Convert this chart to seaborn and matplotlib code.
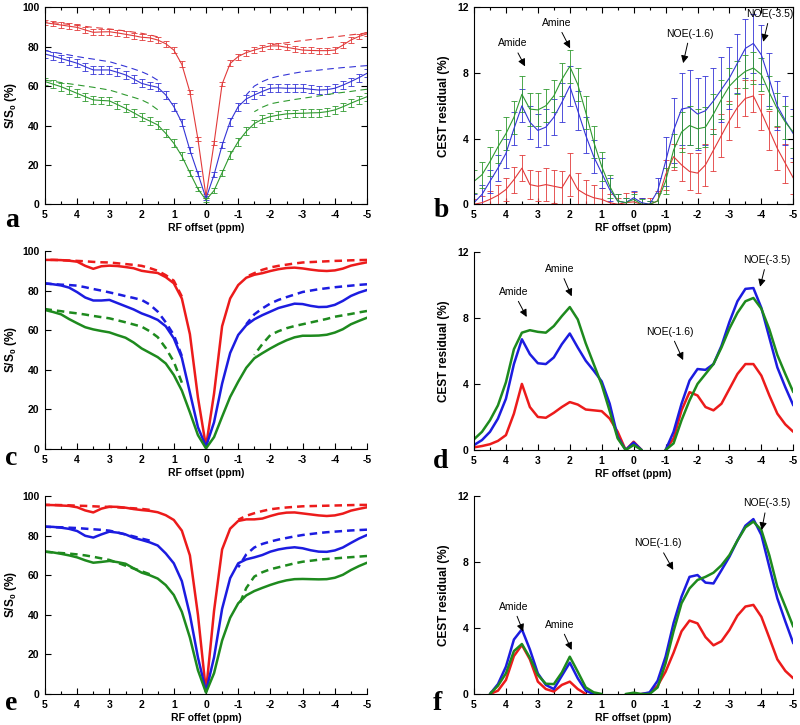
import numpy as np
import pandas as pd
import matplotlib
matplotlib.use("Agg")
import matplotlib.pyplot as plt
from matplotlib.ticker import MultipleLocator
import seaborn as sns

sns.set_theme(style="ticks")
plt.rcParams["font.family"] = ["Liberation Sans", "DejaVu Sans"]
plt.rcParams["font.weight"] = "bold"
plt.rcParams["axes.labelweight"] = "bold"
plt.rcParams["axes.unicode_minus"] = False
plt.rcParams["mathtext.fontset"] = "custom"
plt.rcParams["mathtext.rm"] = "Liberation Sans:bold"
plt.rcParams["mathtext.it"] = "Liberation Sans:bold"
plt.rcParams["mathtext.bf"] = "Liberation Sans:bold"

nan = np.nan
# RF offset grid (ppm), 0.25 ppm sampling from +5 to -5
offset_ppm = np.round(np.linspace(5, -5, 41), 2)
xtick_vals = [5, 4, 3, 2, 1, 0, -1, -2, -3, -4, -5]

# ---------------- panel a : Z-spectra (mean, sd, fitted background) ----------------
a_red = [92.2, 91.6, 91.0, 90.4, 89.8, 88.5, 87.3, 87.5, 87.6, 87.0,
         86.3, 85.6, 84.8, 84.5, 83.4, 81.5, 78.3, 71.0, 57.0, 33.0,
         4.0, 31.0, 61.0, 71.5, 75.0, 77.0, 78.3, 79.5, 80.4, 80.4,
         79.7, 79.0, 78.3, 78.1, 78.0, 78.0, 78.3, 80.8, 83.4, 85.2, 86.5]
a_red_err = [1.2, 1.3, 1.4, 1.5, 1.5, 1.5, 1.5, 1.5, 1.5, 1.5,
             1.5, 1.5, 1.5, 1.5, 1.5, 1.5, 1.5, 1.5, 1.2, 1.0,
             1.0, 1.0, 1.2, 1.5, 1.5, 1.5, 1.5, 1.5, 1.5, 1.5,
             1.5, 1.5, 1.5, 1.5, 1.5, 1.5, 1.5, 1.5, 1.5, 1.3, 1.2]
a_red_fit = [92.6, 92.2, 91.8, 91.3, 90.8, 90.3, 89.8, 89.4, 89.0, 88.5,
             88.0, 87.4, 86.8, 86.0, 85.0, nan, nan, nan, nan, nan,
             nan, nan, nan, nan, nan, nan, nan, nan, 81.0, 81.5,
             82.0, 82.6, 83.1, 83.6, 84.0, 84.5, 85.0, 85.5, 86.0, 86.5, 87.0]
a_blue = [76.3, 75.2, 74.0, 72.8, 71.6, 69.8, 68.2, 68.2, 68.2, 67.0,
          65.7, 63.6, 61.4, 60.3, 59.4, 55.5, 49.6, 41.5, 27.5, 15.5,
          3.0, 15.0, 30.0, 42.0, 49.6, 53.5, 55.5, 57.3, 58.9, 59.1,
          58.9, 58.9, 58.9, 58.4, 58.0, 58.2, 58.9, 60.5, 62.3, 64.3, 66.5]
a_blue_err = [1.8, 2.0, 2.0, 2.0, 2.0, 2.0, 2.0, 2.0, 2.0, 2.0,
              2.0, 2.0, 2.0, 2.0, 2.0, 2.0, 2.0, 2.0, 1.5, 1.2,
              1.0, 1.2, 1.5, 2.0, 2.0, 2.0, 2.0, 2.0, 2.0, 2.0,
              2.0, 2.0, 2.0, 2.0, 2.0, 2.0, 2.0, 2.0, 2.0, 2.0, 2.0]
a_blue_fit = [78.0, 77.2, 76.5, 75.8, 75.0, 74.3, 73.7, 73.0, 72.4, 71.2,
              70.0, 68.7, 67.3, 65.5, 63.0, nan, nan, nan, nan, nan,
              nan, nan, nan, nan, nan, 55.5, 60.0, 62.3, 64.0, 65.0,
              65.8, 66.6, 67.3, 67.7, 68.1, 68.6, 69.0, 69.4, 69.7, 70.1, 70.4]
a_green = [62.3, 61.0, 59.7, 58.0, 56.3, 54.6, 53.0, 52.7, 52.5, 50.6,
           48.7, 46.5, 44.2, 42.3, 40.3, 36.0, 31.0, 24.5, 16.0, 7.8,
           2.2, 7.0, 16.0, 25.0, 31.8, 37.0, 41.0, 43.2, 44.5, 45.3,
           45.9, 46.1, 46.2, 46.4, 46.5, 47.0, 47.9, 49.5, 51.3, 53.0, 54.6]
a_green_err = [1.8, 2.0, 2.0, 2.0, 2.0, 2.0, 2.0, 2.0, 2.0, 2.0,
               2.0, 2.0, 2.0, 2.0, 2.0, 2.0, 2.0, 2.0, 1.5, 1.2,
               1.0, 1.2, 1.5, 2.0, 2.0, 2.0, 2.0, 2.0, 2.0, 2.0,
               2.0, 2.0, 2.0, 2.0, 2.0, 2.0, 2.0, 2.0, 2.0, 2.0, 2.0]
a_green_fit = [63.0, 62.4, 61.8, 61.2, 60.6, 60.0, 59.4, 58.7, 58.0, 56.8,
               55.5, 54.3, 53.0, 51.0, 48.0, nan, nan, nan, nan, nan,
               nan, nan, nan, nan, nan, nan, 47.0, 49.3, 51.0, 51.8,
               52.5, 53.2, 53.8, 54.4, 55.0, 55.7, 56.3, 56.8, 57.3, 57.9, 58.4]

# ---------------- panel b : CEST residual (mean, sd) ----------------
b_red = [0.0, 0.1, 0.3, 0.55, 0.9, 1.5, 2.2, 1.2, 1.1, 1.2,
         1.1, 1.0, 1.8, 0.9, 0.6, 0.4, 0.3, 0.1, 0.0, 0.1,
         0.15, 0.0, 0.0, 0.2, 1.8, 2.9, 2.4, 2.0, 1.9, 2.4,
         3.3, 4.2, 5.1, 5.9, 6.45, 6.6, 5.6, 4.5, 3.4, 2.5, 1.6]
b_red_err = [0.3, 0.4, 0.5, 0.6, 0.7, 0.8, 0.8, 0.9, 0.9, 1.0,
             1.0, 1.0, 1.3, 1.0, 0.9, 0.8, 0.7, 0.5, 0.4, 0.6,
             0.6, 0.4, 0.4, 0.6, 0.9, 0.8, 1.0, 1.1, 1.2, 1.3,
             1.3, 1.3, 1.2, 1.2, 1.1, 1.0, 1.1, 1.2, 1.3, 1.2, 1.0]
b_blue = [0.1, 0.6, 1.4, 2.2, 3.1, 4.6, 6.0, 5.0, 4.5, 4.7,
          5.3, 6.2, 7.2, 5.7, 4.2, 2.9, 1.9, 0.9, 0.2, 0.1,
          0.4, 0.1, 0.0, 0.8, 2.6, 4.5, 5.8, 5.9, 5.5, 5.7,
          6.3, 7.0, 7.7, 8.6, 9.5, 9.8, 9.1, 7.6, 6.0, 5.1, 4.3]
b_blue_err = [0.5, 0.6, 0.7, 0.8, 0.9, 1.0, 1.0, 1.0, 1.0, 1.1,
              1.1, 1.2, 1.2, 1.2, 1.1, 1.0, 0.9, 0.7, 0.4, 0.3,
              0.4, 0.3, 0.2, 0.8, 1.5, 2.0, 2.2, 2.3, 2.2, 2.1,
              2.0, 2.0, 1.9, 1.8, 1.8, 1.8, 1.8, 1.6, 1.5, 1.5, 1.5]
b_green = [1.4, 1.8, 2.6, 3.5, 4.3, 5.3, 6.7, 5.8, 5.75, 6.0,
           6.6, 7.6, 8.4, 7.3, 5.6, 3.8, 2.3, 1.1, 0.2, 0.1,
           0.3, 0.0, 0.0, 0.2, 1.4, 3.3, 4.4, 4.8, 4.6, 4.7,
           5.5, 6.4, 7.2, 7.7, 8.1, 8.3, 7.9, 6.8, 5.8, 5.0, 4.4]
b_green_err = [0.7, 0.8, 0.9, 1.0, 1.0, 1.0, 1.1, 1.0, 1.0, 1.0,
               1.0, 1.0, 1.0, 1.0, 1.0, 1.0, 0.9, 0.7, 0.4, 0.3,
               0.3, 0.3, 0.2, 0.5, 0.8, 1.0, 1.2, 1.2, 1.2, 1.2,
               1.2, 1.2, 1.1, 1.0, 1.0, 1.0, 1.0, 1.0, 1.0, 1.0, 1.0]

# ---------------- panel c : fitted Z-spectra ----------------
c_red = [95.5, 95.5, 95.4, 95.1, 94.6, 92.5, 91.0, 92.3, 92.6, 92.4,
         91.9, 91.3, 90.0, 89.4, 88.9, 86.8, 83.7, 76.0, 58.0, 26.0,
         1.2, 28.0, 62.0, 76.0, 82.8, 86.5, 88.0, 88.8, 89.9, 90.8,
         91.4, 91.6, 91.2, 90.6, 90.1, 89.9, 90.2, 91.1, 92.6, 93.5, 94.3]
c_red_fit = [95.5, 95.5, 95.4, 95.2, 95.0, 94.8, 94.5, 94.3, 94.2, 93.8,
             93.4, 93.0, 92.5, 91.4, 90.0, 87.8, 85.0, 77.0, nan, nan,
             nan, nan, nan, nan, nan, 87.0, 88.8, 90.5, 91.7, 92.5,
             93.1, 93.7, 94.2, 94.4, 94.6, 94.8, 95.0, 95.1, 95.3, 95.4, 95.5]
c_blue = [83.7, 83.2, 82.6, 81.5, 79.2, 76.5, 75.0, 75.0, 75.3, 73.7,
          72.1, 70.5, 68.5, 67.0, 65.2, 62.0, 55.9, 46.0, 28.5, 11.0,
          1.2, 13.5, 33.0, 48.5, 57.6, 62.5, 65.5, 67.6, 69.4, 71.2,
          72.3, 73.4, 73.2, 72.3, 71.7, 71.8, 72.8, 74.8, 77.3, 79.0, 80.3]
c_blue_fit = [83.5, 83.3, 83.0, 82.8, 82.5, 81.7, 80.8, 80.0, 79.1, 78.2,
              77.2, 76.3, 75.3, 73.0, 69.4, 64.0, 57.6, 47.0, nan, nan,
              nan, nan, nan, nan, nan, 63.0, 68.0, 71.0, 73.5, 75.3,
              76.7, 78.0, 79.3, 80.0, 80.7, 81.2, 81.7, 82.1, 82.5, 82.9, 83.2]
c_green = [70.2, 69.2, 68.0, 65.6, 63.5, 61.5, 60.4, 59.6, 58.9, 57.5,
           56.2, 53.8, 50.8, 48.6, 46.4, 43.2, 37.4, 29.5, 18.5, 7.0,
           0.3, 6.0, 16.3, 26.3, 34.0, 41.0, 45.8, 48.4, 50.8, 53.0,
           54.9, 56.4, 57.2, 57.2, 57.3, 57.7, 58.8, 60.5, 63.0, 64.7, 66.3]
c_green_fit = [70.7, 70.1, 69.6, 69.0, 68.5, 67.9, 67.2, 66.6, 66.0, 65.0,
               64.0, 62.9, 61.8, 59.5, 56.5, 51.0, 44.1, 33.5, nan, nan,
               nan, nan, nan, nan, nan, nan, 47.5, 53.0, 57.6, 59.5,
               61.0, 62.1, 63.0, 63.9, 64.8, 65.7, 66.8, 67.5, 68.2, 69.0, 69.7]

# ---------------- panel d : fitted CEST residual ----------------
d_red = [0.16, 0.24, 0.35, 0.55, 0.9, 2.2, 4.0, 2.6, 2.0, 1.95,
         2.25, 2.6, 2.9, 2.75, 2.45, 2.4, 2.35, 1.9, 1.1, 0.0,
         0.5, 0.0, nan, nan, 0.0, 0.7, 2.4, 3.5, 3.3, 2.6,
         2.4, 2.8, 3.7, 4.6, 5.2, 5.2, 4.5, 3.3, 2.2, 1.55, 1.1]
d_blue = [0.3, 0.6, 1.1, 1.9, 3.1, 5.2, 6.7, 5.8, 5.25, 5.2,
          5.6, 6.4, 7.05, 6.2, 5.4, 4.8, 4.15, 2.8, 0.8, 0.0,
          0.45, 0.0, nan, nan, 0.0, 1.1, 2.8, 4.2, 4.9, 4.85,
          5.2, 6.3, 7.75, 9.0, 9.75, 9.8, 8.6, 6.8, 5.0, 3.8, 2.7]
d_green = [0.65, 1.1, 1.8, 2.7, 4.1, 6.1, 7.1, 7.25, 7.15, 7.1,
           7.5, 8.1, 8.65, 7.9, 6.45, 5.2, 3.95, 2.35, 0.7, 0.0,
           0.3, 0.0, nan, nan, 0.0, 0.4, 1.8, 3.0, 4.0, 4.6,
           5.2, 6.2, 7.35, 8.3, 9.0, 9.2, 8.55, 7.3, 5.75, 4.6, 3.5]

# ---------------- panel e : fitted Z-spectra (second model) ----------------
e_red = [95.5, 95.4, 95.2, 95.0, 94.3, 92.7, 91.7, 93.6, 94.6, 94.5,
         94.1, 93.4, 92.9, 92.5, 91.8, 90.3, 87.9, 82.5, 70.0, 40.0,
         1.2, 42.0, 73.0, 83.5, 87.4, 88.2, 88.2, 88.6, 89.9, 91.0,
         91.6, 91.7, 91.2, 90.7, 90.2, 89.9, 90.2, 91.1, 92.6, 93.5, 94.3]
e_red_fit = [95.5, 95.5, 95.4, 95.3, 95.1, 95.0, 94.8, 94.6, 94.5, 94.3,
             94.0, 93.8, 93.5, 93.0, nan, nan, nan, nan, nan, nan,
             nan, nan, nan, nan, 88.0, 90.0, 91.3, 92.4, 93.3, 93.8,
             94.2, 94.5, 94.8, 94.9, 95.0, 95.1, 95.2, 95.3, 95.4, 95.5, 95.5]
e_blue = [84.5, 84.4, 84.0, 83.4, 82.3, 79.9, 79.0, 80.6, 82.0, 81.5,
          80.6, 78.9, 77.8, 76.6, 75.0, 71.0, 66.0, 57.0, 40.0, 18.5,
          1.2, 18.5, 43.0, 58.5, 66.0, 68.0, 69.0, 70.2, 71.9, 73.0,
          73.7, 74.1, 73.6, 72.6, 71.9, 71.8, 72.5, 74.0, 76.3, 78.5, 80.3]
e_blue_fit = [84.5, 84.3, 84.2, 84.0, 83.8, 83.5, 83.2, 82.9, 82.5, 81.6,
              80.6, 79.6, 78.5, 77.5, nan, nan, nan, nan, nan, nan,
              nan, nan, nan, nan, 64.0, 70.5, 74.0, 75.8, 77.0, 78.0,
              78.8, 79.6, 80.3, 80.8, 81.3, 81.7, 82.0, 82.3, 82.6, 82.8, 83.0]
e_green = [71.9, 71.5, 70.8, 70.0, 69.0, 67.5, 66.3, 66.7, 67.2, 66.6,
           65.8, 63.5, 61.3, 60.0, 58.3, 55.0, 50.0, 41.5, 28.5, 12.0,
           0.7, 10.5, 27.0, 38.5, 45.8, 49.8, 52.0, 53.6, 55.1, 56.4,
           57.4, 58.0, 58.1, 58.0, 57.9, 58.0, 58.7, 60.2, 62.6, 64.6, 66.3]
e_green_fit = [71.9, 71.5, 71.2, 70.9, 70.5, 70.0, 69.3, 68.5, 67.7, 66.3,
               64.8, 63.4, 62.0, 60.5, nan, nan, nan, nan, nan, nan,
               nan, nan, nan, nan, 44.0, 53.5, 59.3, 61.5, 63.0, 64.0,
               65.0, 66.0, 66.8, 67.3, 67.8, 68.2, 68.5, 68.8, 69.1, 69.4, 69.7]

# ---------------- panel f : fitted CEST residual (second model) ----------------
f_red = [nan, nan, 0.0, 0.2, 0.85, 2.3, 2.97, 2.1, 0.75, 0.3,
         0.15, 0.55, 0.75, 0.3, 0.0, nan, nan, nan, nan, nan,
         nan, 0.0, 0.05, 0.5, 1.35, 2.5, 3.8, 4.45, 4.28, 3.45,
         2.95, 3.2, 3.88, 4.75, 5.3, 5.4, 4.68, 3.4, 2.1, 1.4, 0.95]
f_blue = [nan, nan, 0.0, 0.6, 1.66, 3.3, 3.92, 2.7, 1.25, 0.55,
          0.3, 1.1, 1.9, 0.95, 0.2, 0.0, nan, nan, nan, nan,
          nan, 0.0, 0.1, 0.8, 2.26, 4.3, 5.9, 7.1, 7.21, 6.75,
          6.7, 7.5, 8.32, 9.3, 10.2, 10.6, 9.64, 7.7, 5.8, 4.4, 3.07]
f_green = [nan, nan, 0.0, 0.5, 1.25, 2.6, 3.03, 2.2, 1.15, 0.62,
           0.6, 1.3, 2.26, 1.35, 0.4, 0.1, 0.0, nan, nan, 0.0,
           0.08, 0.0, 0.0, 0.4, 1.86, 3.8, 5.5, 6.4, 6.91, 7.1,
           7.35, 7.8, 8.42, 9.3, 10.1, 10.45, 9.94, 8.4, 6.5, 5.3, 4.08]

# annotation labels (text position, arrow tip) in data coords
annot_b = [("Amide", (3.78, 9.8), (3.4, 8.4)), ("Amine", (2.4, 11.05), (1.99, 9.5)),
           ("NOE(-1.6)", (-1.76, 10.4), (-1.55, 8.6)), ("NOE(-3.5)", (-4.27, 11.6), (-4.06, 9.9))]
annot_d = [("Amide", (3.77, 9.57), (3.35, 8.05)), ("Amine", (2.31, 10.95), (1.94, 9.3)),
           ("NOE(-1.6)", (-1.14, 7.16), (-1.55, 5.44)), ("NOE(-3.5)", (-4.17, 11.5), (-3.96, 9.88))]
annot_f = [("Amide", (3.77, 5.29), (3.46, 3.78)), ("Amine", (2.31, 4.2), (1.94, 2.67)),
           ("NOE(-1.6)", (-0.77, 9.13), (-1.24, 7.52)), ("NOE(-3.5)", (-4.17, 11.56), (-4.01, 9.94))]

# ---------------- styling ----------------
pal_thin = {"red": "#e23a3a", "blue": "#3434d6", "green": "#2f9a2f"}
pal_bold = {"red": "#ec1b1b", "blue": "#1c1ce0", "green": "#1e8a1e"}
FS = 7.5


def long_frame(series):
    frames = []
    for name, vals in series.items():
        v = np.asarray(vals, dtype=float)
        seg = np.cumsum(np.isnan(v))
        frames.append(pd.DataFrame({"x": offset_ppm, "y": v, "series": name, "seg": seg}))
    return pd.concat(frames, ignore_index=True).dropna()


def draw_lines(ax, series, palette, lw, ls="-"):
    df = long_frame(series)
    sns.lineplot(data=df, x="x", y="y", hue="series", units="seg", estimator=None,
                 hue_order=list(series.keys()), palette=palette, lw=lw, linestyle=ls,
                 legend=False, ax=ax)


def draw_err(ax, means, errs, palette):
    for name in means:
        ax.errorbar(offset_ppm, means[name], yerr=errs[name], fmt="none",
                    ecolor=palette[name], elinewidth=0.6, capsize=2.0, capthick=0.6, zorder=1.5)


def style_axes(ax, ymax, ystep, box, ylabel, xlabel, ylab_x):
    ax.set_xlim(5, -5)
    ax.set_ylim(0, ymax)
    ax.set_xticks(xtick_vals)
    ax.set_xticklabels([str(v) for v in xtick_vals])
    ax.xaxis.set_minor_locator(MultipleLocator(0.5))
    ax.yaxis.set_major_locator(MultipleLocator(ystep))
    ax.tick_params(which="both", direction="in", top=box, right=box, labelsize=FS,
                   width=0.8, color="black", labelcolor="black")
    ax.tick_params(which="major", length=4, pad=4)
    ax.tick_params(which="minor", length=2.5)
    for t in ax.get_xticklabels() + ax.get_yticklabels():
        t.set_fontweight("bold")
    for side, sp in ax.spines.items():
        sp.set_color("black")
        sp.set_linewidth(0.8)
        if not box and side in ("top", "right"):
            sp.set_visible(False)
    ax.set_xlabel(xlabel, fontsize=FS, fontweight="bold", color="black")
    ax.set_ylabel(ylabel, fontsize=8.5, fontweight="bold", color="black")
    ax.xaxis.set_label_coords(0.5, -0.095)
    ax.yaxis.set_label_coords(ylab_x, 0.5)
    ax.xaxis.label.set_va("top")
    ax.set_facecolor("white")


def annotate(ax, items):
    for text, xyt, xy in items:
        ax.annotate(text, xy=xy, xytext=xyt, ha="center", va="center", fontsize=FS,
                    fontweight="normal", color="black", annotation_clip=False,
                    arrowprops=dict(arrowstyle="-|>", color="black", lw=0.7,
                                    mutation_scale=11, shrinkA=1, shrinkB=0))


fig = plt.figure(figsize=(8, 7.25), dpi=100)
fig.patch.set_facecolor("white")
W, H = 800.0, 725.0


def axes_px(left, top, right, bottom):
    return fig.add_axes([left / W, 1 - bottom / H, (right - left) / W, (bottom - top) / H])


ax_a = axes_px(45, 7.3, 367, 204.3)
ax_b = axes_px(474, 7.3, 793.3, 204.3)
ax_c = axes_px(45, 251, 367, 449)
ax_d = axes_px(474, 251.7, 793.3, 450)
ax_e = axes_px(45, 496, 367, 694)
ax_f = axes_px(474, 496, 793.3, 694)

zlab = r"S/S$_0$ (%)"
clab = "CEST residual (%)"
zx = (19 - 45) / 322.0
cx = (450 - 474) / 319.3

# panel a
draw_err(ax_a, {"red": a_red, "blue": a_blue, "green": a_green},
         {"red": a_red_err, "blue": a_blue_err, "green": a_green_err}, pal_thin)
draw_lines(ax_a, {"red": a_red, "blue": a_blue, "green": a_green}, pal_thin, 0.8)
draw_lines(ax_a, {"red": a_red_fit, "blue": a_blue_fit, "green": a_green_fit}, pal_thin, 0.8, (0, (6, 4)))
style_axes(ax_a, 100, 20, True, zlab, "RF offset (ppm)", zx)

# panel b
draw_err(ax_b, {"red": b_red, "blue": b_blue, "green": b_green},
         {"red": b_red_err, "blue": b_blue_err, "green": b_green_err}, pal_thin)
draw_lines(ax_b, {"red": b_red, "blue": b_blue, "green": b_green}, pal_thin, 0.8)
style_axes(ax_b, 12, 4, True, clab, "RF offset (ppm)", cx)
annotate(ax_b, annot_b)

# panel c
draw_lines(ax_c, {"red": c_red, "blue": c_blue, "green": c_green}, pal_bold, 1.8)
draw_lines(ax_c, {"red": c_red_fit, "blue": c_blue_fit, "green": c_green_fit}, pal_bold, 1.8, (0, (3, 2)))
style_axes(ax_c, 100, 20, False, zlab, "RF offset (ppm)", zx)

# panel d
draw_lines(ax_d, {"red": d_red, "blue": d_blue, "green": d_green}, pal_bold, 1.8)
style_axes(ax_d, 12, 4, False, clab, "RF offset (ppm)", cx)
annotate(ax_d, annot_d)

# panel e
draw_lines(ax_e, {"red": e_red, "blue": e_blue, "green": e_green}, pal_bold, 1.8)
draw_lines(ax_e, {"red": e_red_fit, "blue": e_blue_fit, "green": e_green_fit}, pal_bold, 1.8, (0, (3, 2)))
style_axes(ax_e, 100, 20, False, zlab, "RF offet (ppm)", zx)

# panel f
draw_lines(ax_f, {"red": f_red, "blue": f_blue, "green": f_green}, pal_bold, 1.8)
style_axes(ax_f, 12, 4, False, clab, "RF offset (ppm)", cx)
annotate(ax_f, annot_f)

# panel letters
for letter, (px, py) in {"a": (5, 227), "b": (434, 217), "c": (5, 465),
                         "d": (433, 468), "e": (5, 710), "f": (433, 710)}.items():
    fig.text(px / W, 1 - py / H, letter, fontsize=20, fontweight="bold",
             family=["Liberation Serif", "DejaVu Serif"], va="baseline", ha="left", color="black")

fig.savefig("out.png", dpi=100, facecolor="white")
